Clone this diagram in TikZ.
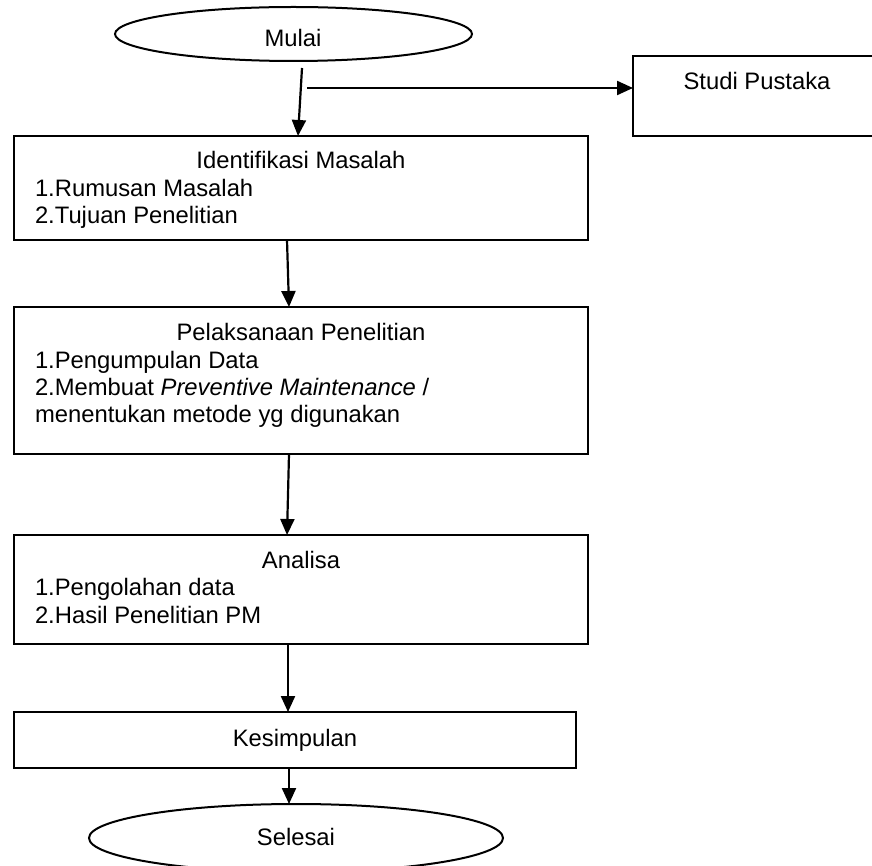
\documentclass[tikz,border=0pt]{standalone}
\usepackage{fontspec}
\setmainfont{Liberation Sans}
\usetikzlibrary{arrows.meta,shapes.geometric}
\begin{document}
\begin{tikzpicture}[x=1pt,y=-1pt,
  every node/.style={font=\fontsize{23.8}{28}\selectfont, inner sep=0pt, outer sep=0pt},
  box/.style={draw, line width=2pt, rectangle, fill=white},
  term/.style={draw, line width=2pt, ellipse, fill=white},
  txt/.style={anchor=base},
  item/.style={anchor=base west},
  conn/.style={line width=2.2pt, -{Triangle[length=16pt,width=14pt]}}
]
\useasboundingbox (0,0) rectangle (872,866);
\clip (0,0) rectangle (872,866);
\fill[white] (0,0) rectangle (872,866);

% shapes
\node[term, minimum width=357pt, minimum height=54pt] (mulai) at (293.5,34) {};
\node[box, minimum width=248pt, minimum height=80pt] (studi) at (757,96) {};
\node[box, minimum width=574pt, minimum height=104pt] (ident) at (301,188) {};
\node[box, minimum width=574pt, minimum height=147pt] (pelak) at (301,380.5) {};
\node[box, minimum width=574pt, minimum height=109pt] (anal) at (301,589.5) {};
\node[box, minimum width=562pt, minimum height=56pt] (kesim) at (295,740) {};
\node[term, minimum width=414pt, minimum height=68pt] (seles) at (296,838) {};

% texts
\node[txt] (tmulai) at (293,47) {Mulai};
\node[txt] (tstudi) at (757,90) {Studi Pustaka};
\node[txt] (tident) at (301,169) {Identifikasi Masalah};
\node[item] (i1) at (35,197) {1.Rumusan Masalah};
\node[item] (i2) at (35,224) {2.Tujuan Penelitian};
\node[txt] (tpelak) at (301,340) {Pelaksanaan Penelitian};
\node[item] (p1) at (35,368) {1.Pengumpulan Data};
\node[item] (p2) at (35,395) {2.Membuat \textit{Preventive Maintenance} /};
\node[item] (p3) at (35,422) {menentukan metode yg digunakan};
\node[txt] (tanal) at (301,568) {Analisa};
\node[item] (a1) at (35,595) {1.Pengolahan data};
\node[item] (a2) at (35,623) {2.Hasil Penelitian PM};
\node[txt] (tkesim) at (295,746) {Kesimpulan};
\node[txt] (tseles) at (296,845) {Selesai};

% connector end points
\coordinate (c1s) at (302,68);
\coordinate (c1e) at (298,136);
\coordinate (c2s) at (307,88);
\coordinate (c3s) at (287,240);
\coordinate (c3e) at (289,307);
\coordinate (c4s) at (289,454);
\coordinate (c4e) at (287,535);
\coordinate (c5s) at (288,644);
\coordinate (c5e) at (288,712);
\coordinate (c6s) at (289,768);
\coordinate (c6e) at (289,804);

\draw[conn] (c1s) -- (c1e);
\draw[conn] (c2s) -- (c2s -| studi.west);
\draw[conn] (c3s) -- (c3e);
\draw[conn] (c4s) -- (c4e);
\draw[conn] (c5s) -- (c5e);
\draw[conn] (c6s) -- (c6e);
\end{tikzpicture}
\end{document}
